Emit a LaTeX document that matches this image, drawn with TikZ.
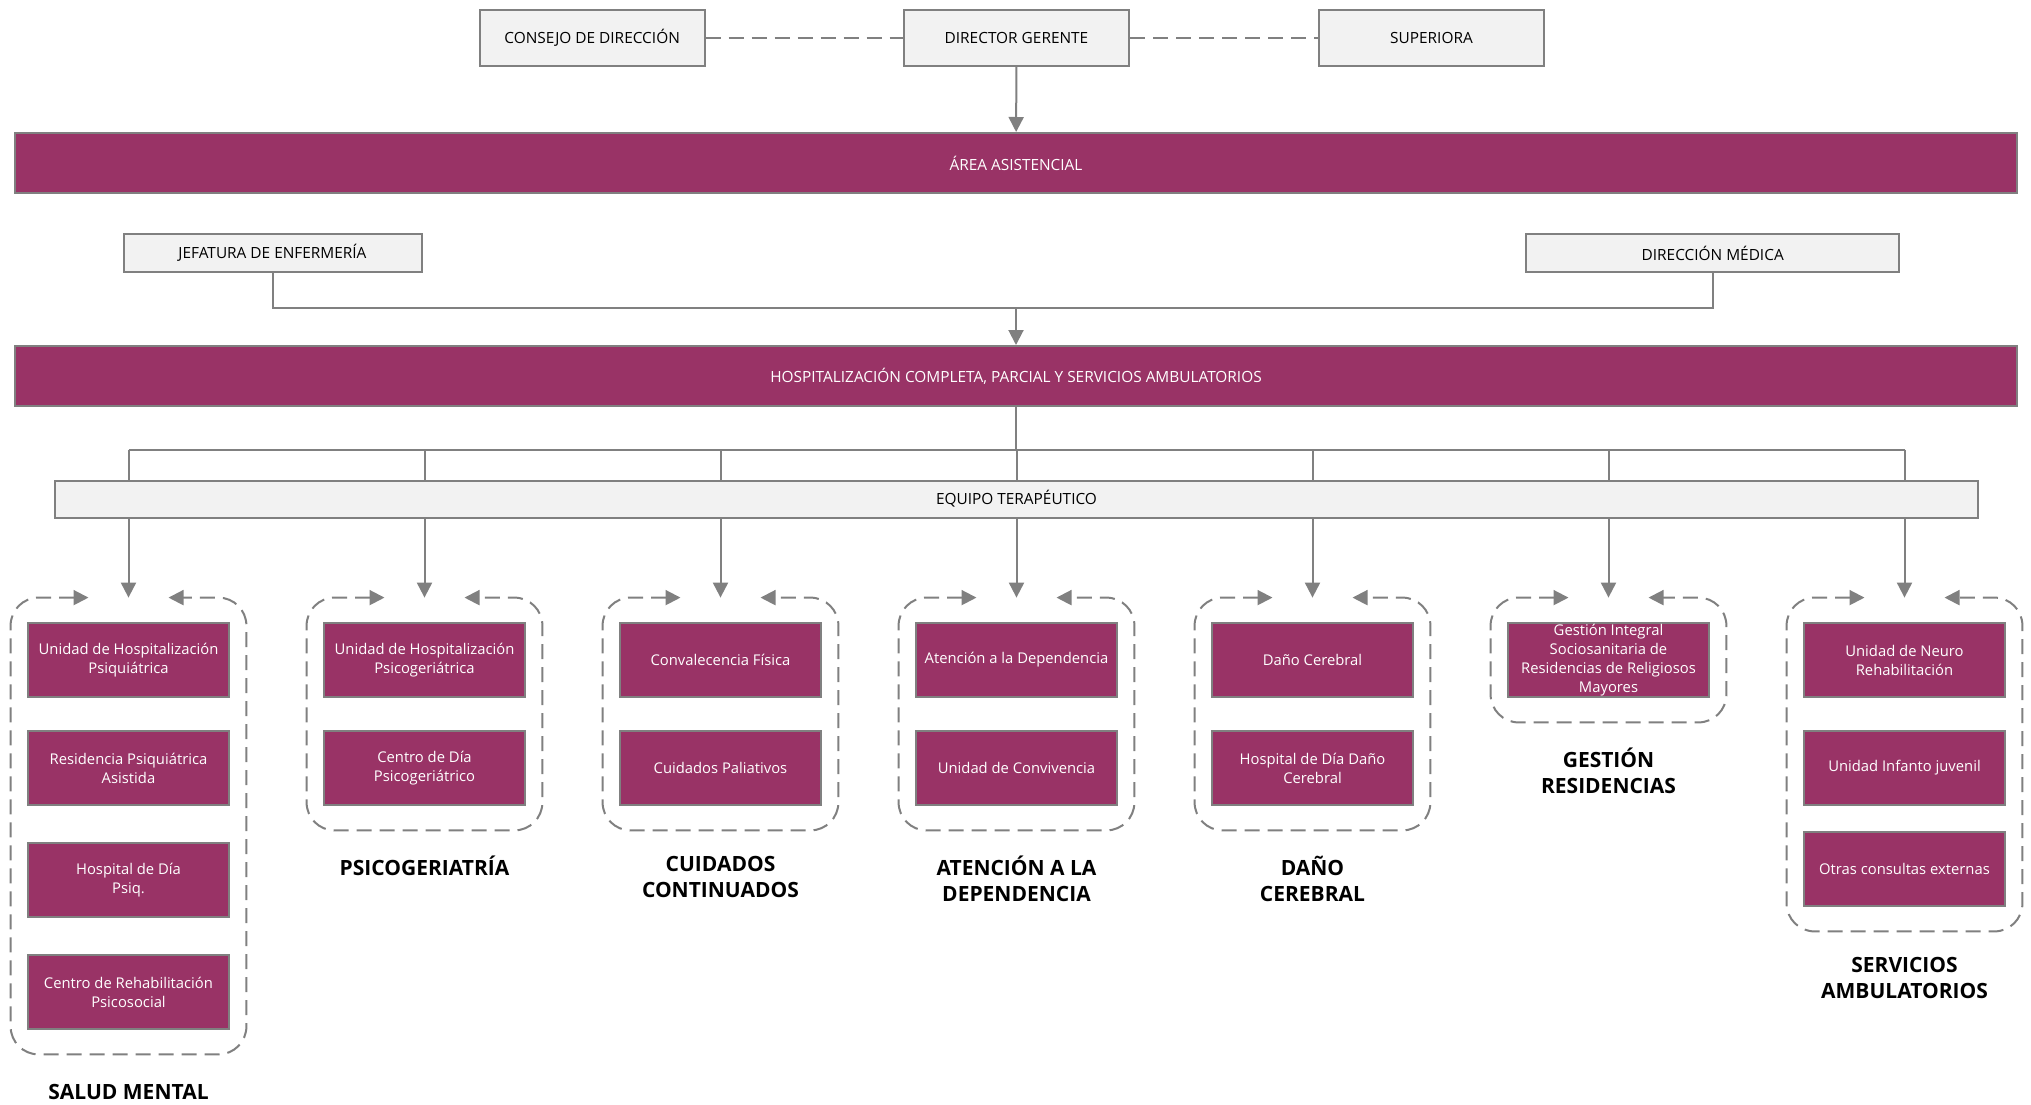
\documentclass[tikz,border=0pt]{standalone}
\usepackage{fontspec}
\setmainfont{Open Sans}
\usetikzlibrary{arrows.meta, positioning, fit}

\definecolor{plum}{HTML}{993366}
\definecolor{linegray}{HTML}{808080}
\definecolor{boxgray}{HTML}{F2F2F2}

\begin{document}
\begin{tikzpicture}[
        x=0.5pt, y=-0.5pt,
        >={Triangle[length=7.5pt, width=7.5pt]},
        txt/.style={font=\fontsize{7.7}{9.5}\selectfont, align=center, inner sep=0pt},
        graybox/.style={txt, draw=linegray, line width=1pt, fill=boxgray},
        topbox/.style={graybox, minimum width=112.5pt, minimum height=28pt},
        banner/.style={txt, draw=linegray, line width=1pt, fill=plum, text=white,
                       minimum width=1001pt, minimum height=30pt},
        unitbox/.style={txt, font=\fontsize{7.4}{9.5}\selectfont, draw=linegray,
                        line width=1pt, fill=plum, text=white,
                        minimum width=100.5pt, minimum height=37pt},
        grpbox/.style={inner xsep=8pt, inner ysep=12pt},
        grptitle/.style={font=\fontsize{10.5}{13}\selectfont\bfseries, align=center,
                         inner sep=0pt, execute at begin node={\vphantom{ÓÍÑ}}},
        connector/.style={draw=linegray, line width=1pt},
        arrowline/.style={connector, ->},
        peerline/.style={connector, dash pattern=on 7.5pt off 4pt},
        grpline/.style={connector, dash pattern=on 7.5pt off 4pt,
                        rounded corners=14pt, <->}
    ]
    \useasboundingbox (0,0) rectangle (2031,1104);

    % direccion
    \node[topbox] (director) at (1016.5,38) {DIRECTOR GERENTE};
    \node[topbox, left=98.7pt of director] (consejo) {CONSEJO DE DIRECCIÓN};
    \node[topbox, right=94pt of director] (superiora) {SUPERIORA};
    \draw[peerline] (consejo) -- (director);
    \draw[peerline] (director) -- (superiora);

    \node[banner] (area) at (1016,163) {ÁREA ASISTENCIAL};
    \draw[arrowline] (director) -- (area);

    \node[graybox, minimum width=149pt, minimum height=19pt] (jefatura) at (272.5,253) {JEFATURA DE ENFERMERÍA};
    \node[graybox, minimum width=186.75pt, minimum height=19pt] (medica) at (1712.7,253) {DIRECCIÓN MÉDICA};
    \coordinate (join) at (1016,308);
    \draw[connector] (jefatura) |- (join) -| (medica);

    \node[banner] (hosp) at (1016,376) {HOSPITALIZACIÓN COMPLETA, PARCIAL Y SERVICIOS AMBULATORIOS};
    \draw[arrowline] (join) -- (hosp);

    % equipo
    \coordinate (bus) at (1016,449.5);
    \draw[connector] (hosp) -- (bus);
    \node[graybox, minimum width=961.5pt, minimum height=18.5pt] (equipo) at (1016.5,499) {EQUIPO TERAPÉUTICO};

    % unidades
    \node[unitbox] (sm1) at (128.5,660) {Unidad de Hospitalización\\Psiquiátrica};
    \node[unitbox, below=16pt of sm1] (sm2) {Residencia Psiquiátrica\\Asistida};
    \node[unitbox, below=18pt of sm2] (sm3) {Hospital de Día\\Psiq.};
    \node[unitbox, below=18pt of sm3] (sm4) {Centro de Rehabilitación\\Psicosocial};

    \node[unitbox] (psg1) at (424.5,660) {Unidad de Hospitalización\\Psicogeriátrica};
    \node[unitbox, below=16pt of psg1] (psg2) {Centro de Día\\Psicogeriátrico};

    \node[unitbox] (cc1) at (720.5,660) {Convalecencia Física};
    \node[unitbox, below=16pt of cc1] (cc2) {Cuidados Paliativos};

    \node[unitbox] (ad1) at (1016.5,660) {Atención a la Dependencia};
    \node[unitbox, below=16pt of ad1] (ad2) {Unidad de Convivencia};

    \node[unitbox] (dc1) at (1312.5,660) {Daño Cerebral};
    \node[unitbox, below=16pt of dc1] (dc2) {Hospital de Día Daño\\Cerebral};

    \node[unitbox] (gr1) at (1608.5,660) {Gestión Integral\\Sociosanitaria de\\Residencias de Religiosos\\Mayores};

    \node[unitbox] (sa1) at (1904.5,660) {Unidad de Neuro\\Rehabilitación};
    \node[unitbox, below=16pt of sa1] (sa2) {Unidad Infanto juvenil};
    \node[unitbox, below=12.5pt of sa2] (sa3) {Otras consultas externas};

    % grupos
    \node[grpbox, fit=(sm1)(sm4)] (sm) {};
    \node[grpbox, fit=(psg1)(psg2)] (psg) {};
    \node[grpbox, fit=(cc1)(cc2)] (cc) {};
    \node[grpbox, fit=(ad1)(ad2)] (ad) {};
    \node[grpbox, fit=(dc1)(dc2)] (dc) {};
    \node[grpbox, fit=(gr1)] (gr) {};
    \node[grpbox, fit=(sa1)(sa3)] (sa) {};

    \draw[connector] (sm.north |- bus) -- (sa.north |- bus);
    \foreach \g in {sm,psg,cc,ad,dc,gr,sa} {
        \draw[connector] (\g.north |- bus) -- (equipo.north -| \g.north);
        \draw[arrowline] (equipo.south -| \g.north) -- (\g.north);
        \draw[grpline] ([xshift=-20pt]\g.north) -- (\g.north west) -- (\g.south west)
            -- (\g.south east) -- (\g.north east) -- ([xshift=20pt]\g.north);
    }

    \node[grptitle, below=12.5pt of sm] (tsm) {SALUD MENTAL};
    \node[grptitle, below=12.5pt of psg] (tpsg) {PSICOGERIATRÍA};
    \node[grptitle, below=12.5pt of cc] (tcc) {CUIDADOS\\CONTINUADOS};
    \node[grptitle, below=12.5pt of ad] (tad) {ATENCIÓN A LA\\DEPENDENCIA};
    \node[grptitle, below=12.5pt of dc] (tdc) {DAÑO\\CEREBRAL};
    \node[grptitle, below=12.5pt of gr] (tgr) {GESTIÓN\\RESIDENCIAS};
    \node[grptitle, below=12.5pt of sa] (tsa) {SERVICIOS\\AMBULATORIOS};
\end{tikzpicture}
\end{document}
